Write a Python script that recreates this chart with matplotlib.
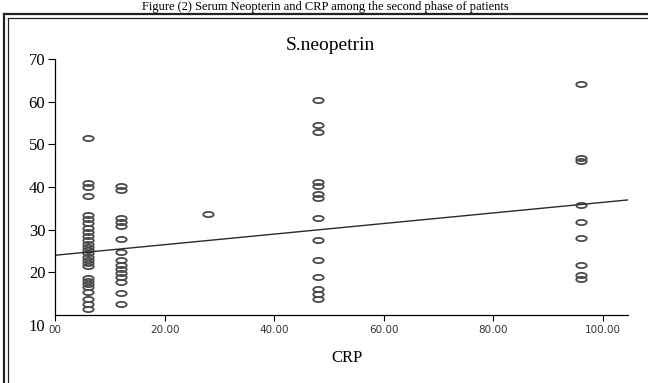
#!/usr/bin/env python3
"""Scatter of serum neopterin against CRP with fit line"""
import numpy as np
import matplotlib
matplotlib.use("Agg")
import matplotlib.pyplot as plt
from matplotlib.path import Path
from matplotlib.lines import Line2D
from matplotlib.transforms import Affine2D, ScaledTranslation

# CRP groups and the neopterin values read for each group
crp_levels = [6, 12, 28, 48, 96]
neo_crp6 = [51.5, 41, 40, 38, 33.5, 32.5, 31.5, 30.5, 29.5, 28.4, 27.5, 26.7,
            26, 25.2, 24.5, 23.7, 23, 22.2, 21.4, 18.7, 18, 17.2, 16.5, 15.3,
            13.7, 12.5, 11.5]
neo_crp12 = [40.3, 39.3, 32.8, 31.8, 30.8, 27.8, 24.8, 22.8, 21.8, 20.8, 19.8,
             18.8, 17.8, 15.2, 12.5]
neo_crp28 = [33.6]
neo_crp48 = [60.4, 54.6, 52.8, 41.2, 40.2, 38.4, 37.4, 32.8, 27.6, 22.9, 19.0,
             16.2, 15.0, 13.8]
neo_crp96 = [64.2, 46.9, 46.0, 35.8, 31.8, 28.0, 21.7, 19.3, 18.4]
neo_groups = [neo_crp6, neo_crp12, neo_crp28, neo_crp48, neo_crp96]

# fitted line
fit_intercept = 24.0
fit_slope = 0.124

xticks = [0, 20, 40, 60, 80, 100]
xticklabels = ["00", "20.00", "40.00", "60.00", "80.00", "100.00"]
yticks = [10, 20, 30, 40, 50, 60, 70]

W, H = 648, 383
fig = plt.figure(figsize=(W / 100, H / 100), dpi=100)
ax = fig.add_axes([55 / W, (H - 315) / H, (628 - 55) / W, (315 - 59) / H])

# flat oval marker
oval = Path.unit_circle().transformed(Affine2D().scale(1, 0.5))

xs = np.concatenate([[c] * len(v) for c, v in zip(crp_levels, neo_groups)])
ys = np.concatenate(neo_groups)
ax.plot(xs, ys, linestyle="none", marker=oval, ms=7.5, mfc="none",
        mec="#4a4a4a", mew=1.3)

xlim = (0, 104.6)
xl = np.array(xlim)
ax.plot(xl, fit_intercept + fit_slope * xl, color="#2a2a2a", lw=1.0)

ax.set_xlim(*xlim)
ax.set_ylim(10, 70)
for s in ("top", "right"):
    ax.spines[s].set_visible(False)
for s in ("left", "bottom"):
    ax.spines[s].set_linewidth(0.9)

ax.set_yticks(yticks)
ax.set_yticklabels([str(v) for v in yticks], fontfamily="Liberation Serif",
                   fontsize=12)
ax.tick_params(axis="y", length=5, width=0.8, pad=2)
# the 10 label sits a little below the corner
lab10 = ax.get_yticklabels()[0]
lab10.set_transform(lab10.get_transform()
                    + ScaledTranslation(0, -10 / 100, fig.dpi_scale_trans))
ax.yaxis.get_major_ticks()[0].tick1line.set_visible(False)

ax.set_xticks(xticks)
ax.set_xticklabels(xticklabels, fontfamily="DejaVu Sans", fontsize=7.5,
                   color="#333333")
ax.tick_params(axis="x", length=4, width=0.8, pad=3)

fig.text(330 / W, 1 - 46 / H, "S.neopetrin", ha="center", va="center",
         fontfamily="Liberation Serif", fontsize=14)
fig.text(347 / W, 1 - 358 / H, "CRP", ha="center", va="center",
         fontfamily="Liberation Serif", fontsize=12)
fig.text(325 / W, 1 - 1 / H,
         "Figure (2) Serum Neopterin and CRP among the second phase of patients",
         ha="center", va="top", fontfamily="Liberation Serif", fontsize=9)

# double frame, cut off on the right and bottom
def px(x, y):
    return x / W, 1 - y / H

for off, lw in ((3.5, 1.6), (7.5, 0.9)):
    x0, y0 = px(off, off + 10.5)
    fig.add_artist(Line2D([x0, 1.01], [y0, y0], color="#222222", lw=lw))
    fig.add_artist(Line2D([x0, x0], [y0, -0.01], color="#222222", lw=lw))

fig.savefig("out.png", dpi=100)
print("saved out.png")
